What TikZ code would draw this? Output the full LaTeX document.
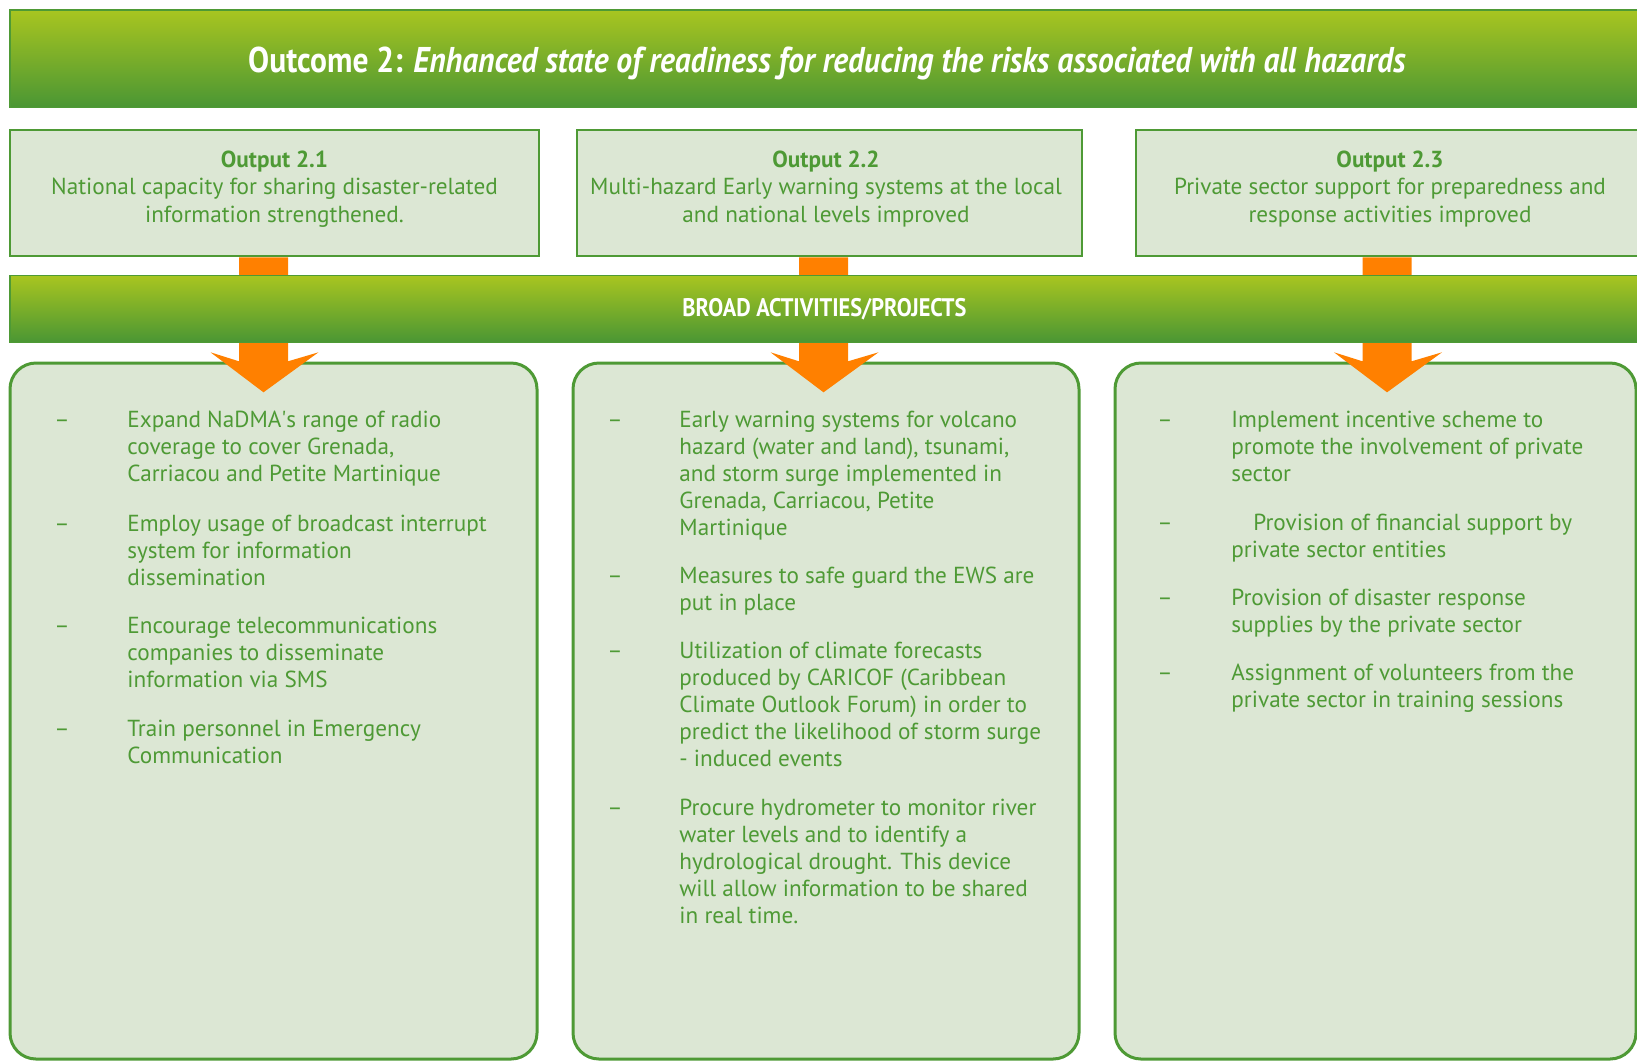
\documentclass[tikz,border=0pt]{standalone}
\usepackage{fontspec}
\setmainfont{PT Sans}
\newfontfamily\headfont[FakeStretch=0.88]{PT Sans}
\usetikzlibrary{positioning}
\definecolor{leaf}{RGB}{78,154,53}
\definecolor{pale}{RGB}{220,231,212}
\definecolor{lime}{RGB}{168,197,32}
\definecolor{moss}{RGB}{74,150,52}
\definecolor{tang}{RGB}{255,128,0}

\begin{document}
\begin{tikzpicture}[x=0.5pt,y=-0.5pt,
  banner/.style={draw=leaf,line width=0.8pt,top color=lime,bottom color=moss,inner sep=0pt},
  outbox/.style={draw=leaf,line width=1.3pt,fill=pale,inner sep=0pt},
  actbox/.style={draw=leaf,line width=1.5pt,fill=pale,rounded corners=13pt,inner sep=0pt},
  headtxt/.style={text=white,inner sep=0pt,anchor=base},
  outtxt/.style={text=leaf,align=center,font=\fontsize{11.6pt}{13.75pt}\selectfont,inner sep=0pt,anchor=base},
  itemtxt/.style={text=leaf,align=left,font=\fontsize{11.6pt}{13.5pt}\selectfont,inner sep=0pt,anchor=base west},
  dashmark/.style={text=leaf,font=\fontsize{11.6pt}{13.5pt}\selectfont,inner sep=0pt,anchor=base west},
  arrowfill/.style={fill=tang}]
  \useasboundingbox (0,0) rectangle (1637,1061);
  \node[banner,minimum width=825pt,minimum height=48.75pt] (outcome) at (835,58.75) {};
  \node[headtxt,font=\headfont\bfseries\fontsize{17.9pt}{20pt}\selectfont] (outcometxt) at (827,72) {Outcome 2: \textit{Enhanced state of readiness for reducing the risks associated with all hazards}};
  \node[outbox,minimum width=264.5pt,minimum height=63pt] (out1) at (274.5,193) {};
  \node[outbox,minimum width=252.5pt,minimum height=63pt] (out2) at (829.5,193) {};
  \node[outbox,minimum width=254.5pt,minimum height=63pt] (out3) at (1390.5,193) {};
  \node[outtxt] (out1txt) at (274.5,222) {\textbf{Output 2.1}\\National capacity for sharing disaster-related\\information strengthened.};
  \node[outtxt] (out2txt) at (826,222) {\textbf{Output 2.2}\\Multi-hazard Early warning systems at the local\\and national levels improved};
  \node[outtxt] (out3txt) at (1390,222) {\textbf{Output 2.3}\\Private sector support for preparedness and\\response activities improved};
  \node[actbox,minimum width=263.5pt,minimum height=348pt] (act1) at (273.5,711) {};
  \node[actbox,minimum width=253pt,minimum height=348pt] (act2) at (826,711) {};
  \node[actbox,minimum width=260.5pt,minimum height=348pt] (act3) at (1375.5,711) {};
  \fill[arrowfill] (out1.south) ++(-35.5,0) -- ++(0,104) -- ++(-28.5,-9) -- ++(53,40) -- ++(55,-40) -- ++(-30.5,9) -- ++(0,-104) -- cycle;
  \fill[arrowfill] (out2.south) ++(-30.5,0) -- ++(0,104) -- ++(-28.5,-9) -- ++(53,40) -- ++(55,-40) -- ++(-30.5,9) -- ++(0,-104) -- cycle;
  \fill[arrowfill] (out3.south) ++(-28,0) -- ++(0,104) -- ++(-28.5,-9) -- ++(53,40) -- ++(55,-40) -- ++(-30.5,9) -- ++(0,-104) -- cycle;
  \node[banner,minimum width=825pt,minimum height=33.4pt] (broad) at (835,309) {};
  \node[headtxt,font=\headfont\bfseries\fontsize{12.7pt}{15pt}\selectfont] (broadtxt) at (824.5,316) {BROAD ACTIVITIES/PROJECTS};
  \node[dashmark] (d11) at (54,427) {--};
  \node[itemtxt] (a11) at (127,481) {Expand NaDMA\textquotesingle s range of radio\\coverage to cover Grenada,\\Carriacou and Petite Martinique};
  \node[dashmark] (d12) at (54,531) {--};
  \node[itemtxt] (a12) at (127,585) {Employ usage of broadcast interrupt\\system for information\\dissemination};
  \node[dashmark] (d13) at (54,633) {--};
  \node[itemtxt] (a13) at (127,687) {Encourage telecommunications\\companies to disseminate\\information via SMS};
  \node[dashmark] (d14) at (54,736) {--};
  \node[itemtxt] (a14) at (127,763) {Train personnel in Emergency\\Communication};
  \node[dashmark] (d21) at (607,427) {--};
  \node[itemtxt] (a21) at (679,535) {Early warning systems for volcano\\hazard (water and land), tsunami,\\and storm surge implemented in\\Grenada, Carriacou, Petite\\Martinique};
  \node[dashmark] (d22) at (607,583) {--};
  \node[itemtxt] (a22) at (679,610) {Measures to safe guard the EWS are\\put in place};
  \node[dashmark] (d23) at (607,658) {--};
  \node[itemtxt] (a23) at (679,766) {Utilization of climate forecasts\\produced by CARICOF (Caribbean\\Climate Outlook Forum) in order to\\predict the likelihood of storm surge\\- induced events};
  \node[dashmark] (d24) at (607,815) {--};
  \node[itemtxt] (a24) at (679,923) {Procure hydrometer to monitor river\\water levels and to identify a\\hydrological drought. This device\\will allow information to be shared\\in real time.};
  \node[dashmark] (d31) at (1157,427) {--};
  \node[itemtxt] (a31) at (1231,481) {Implement incentive scheme to\\promote the involvement of private\\sector};
  \node[dashmark] (d32) at (1157,530) {--};
  \node[itemtxt] (a32) at (1231,557) {\hspace*{11pt}Provision of financial support by\\private sector entities};
  \node[dashmark] (d33) at (1157,605) {--};
  \node[itemtxt] (a33) at (1231,632) {Provision of disaster response\\supplies by the private sector};
  \node[dashmark] (d34) at (1157,680) {--};
  \node[itemtxt] (a34) at (1231,707) {Assignment of volunteers from the\\private sector in training sessions};
\end{tikzpicture}
\end{document}
